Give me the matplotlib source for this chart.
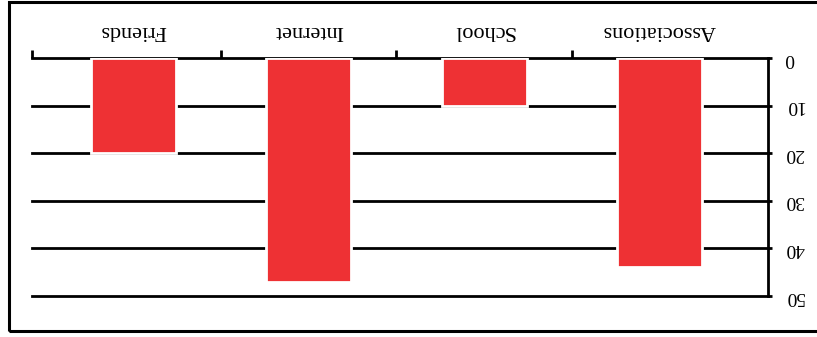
import matplotlib
matplotlib.use("Agg")
import matplotlib.pyplot as plt
from matplotlib.patches import Rectangle

categories = ["Friends", "Internet", "School", "Associations"]
values = [20, 47, 10, 44]
yticks = [0, 10, 20, 30, 40, 50]

W, H = 817, 337
fig = plt.figure(figsize=(W / 100, H / 100), dpi=100)
fig.patch.set_facecolor("white")

# outer frame
fig.add_artist(Rectangle((8.5 / W, 1 - 331 / H), 1.2, (331 - 1.5) / H,
                         transform=fig.transFigure, fill=False,
                         edgecolor="black", linewidth=2.2, clip_on=False))

left, right, top, bottom = 32, 768, 58, 296
ax = fig.add_axes([left / W, 1 - bottom / H, (right - left) / W, (bottom - top) / H])

xpos = list(range(len(categories)))
ax.bar(xpos, values, width=0.485, color="#EE3134", edgecolor="white",
       linewidth=2, zorder=3)

ax.set_xlim(-0.579, 3.62)
ax.set_ylim(50, 0)

for s in ["left", "bottom", "top"]:
    ax.spines[s].set_visible(False)
ax.spines["right"].set_linewidth(2)
ax.spines["right"].set_zorder(4)

ax.set_yticks(yticks)
ax.yaxis.tick_right()
ax.set_yticklabels([])
ax.tick_params(axis="y", length=3, width=2, direction="out")
ax.yaxis.grid(True, color="black", linewidth=2, zorder=1)
for gl in ax.get_ygridlines():
    gl.set_clip_on(False)
ax.set_axisbelow(True)

for v in yticks:
    ax.annotate(str(v), xy=(1, v), xycoords=("axes fraction", "data"),
                xytext=(17, 0), textcoords="offset pixels",
                ha="left", va="center", rotation=180,
                fontfamily="Liberation Serif", fontsize=14)

ax.xaxis.tick_top()
ax.set_xticks([-0.579, 0.5, 1.5, 2.5])
ax.set_xticklabels([])
ax.tick_params(axis="x", length=6, width=2, direction="out")

for i, c in enumerate(categories):
    ax.annotate(c, xy=(i, 1), xycoords=("data", "axes fraction"),
                xytext=(0, 28), textcoords="offset pixels",
                ha="center", va="center", rotation=180,
                fontfamily="Liberation Serif", fontsize=16)

fig.savefig("out.png", dpi=100, facecolor="white")
